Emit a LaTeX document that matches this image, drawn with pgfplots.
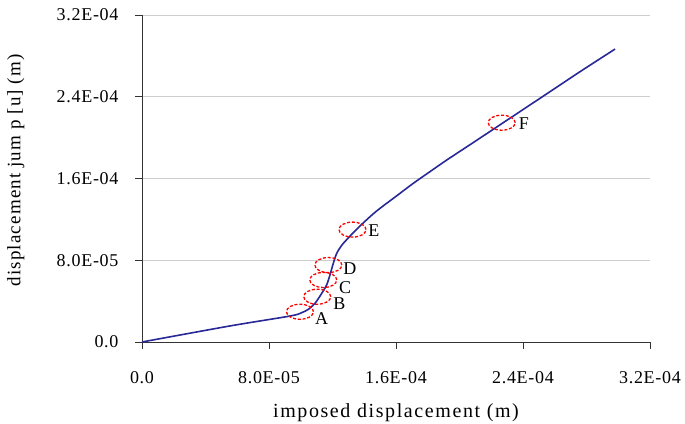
\documentclass[border=0pt]{standalone}
\usepackage{pgfplots}
\pgfplotsset{compat=1.18}
\usepackage{fontspec}
\setmainfont{Liberation Serif}
\definecolor{curveblue}{RGB}{40,40,150}
\definecolor{gridgray}{RGB}{205,205,205}
\begin{document}
\begin{tikzpicture}
\path[use as bounding box] (-142pt,-81pt) rectangle (543pt,342pt);
\begin{axis}[
  at={(0,0)}, anchor=origin,
  scale only axis, width=508pt, height=327pt,
  xmin=0, xmax=3.2e-4, ymin=0, ymax=3.2e-4,
  axis x line*=bottom, axis y line*=left,
  axis line style={black!80, line width=0.7pt},
  tick align=outside, major tick length=7pt,
  tick style={black!80, line width=0.6pt},
  xtick={0,8e-5,1.6e-4,2.4e-4,3.2e-4},
  xticklabels={0.0,8.0E-05,1.6E-04,2.4E-04,3.2E-04},
  ytick={0,8e-5,1.6e-4,2.4e-4,3.2e-4},
  yticklabels={0.0,8.0E-05,1.6E-04,2.4E-04,3.2E-04},
  scaled ticks=false,
  ymajorgrids, grid style={gridgray, line width=0.9pt},
  ticklabel style={font=\fontsize{18}{20}\selectfont\addfontfeature{LetterSpace=4}},
  xticklabel style={yshift=-19pt},
  yticklabel style={xshift=-13pt},
  xlabel={imposed displacement (m)},
  ylabel={displacement jum p [u] (m)},
  xlabel style={font=\fontsize{20}{22}\selectfont\addfontfeature{LetterSpace=8},
    at={(axis description cs:0.5,0)}, anchor=north, yshift=-58pt},
  ylabel style={font=\fontsize{19}{22}\selectfont\addfontfeature{LetterSpace=6},
    at={(axis description cs:0,0.525)}, anchor=south, yshift=114pt},
  clip=false,
]
\addplot[curveblue, line width=1.6pt, smooth, tension=0.5] coordinates {
 (0,0) (5.54e-5,1.57e-5) (9.32e-5,2.54e-5) (1.006e-4,2.87e-5) (1.048e-4,3.2e-5)
 (1.09e-4,3.79e-5) (1.132e-4,4.76e-5) (1.163e-4,5.58e-5) (1.184e-4,6.56e-5)
 (1.205e-4,7.7e-5) (1.226e-4,8.65e-5) (1.26e-4,9.5e-5) (1.325e-4,1.06e-4)
 (1.39e-4,1.16e-4) (1.478e-4,1.282e-4) (1.604e-4,1.43e-4) (1.709e-4,1.553e-4)
 (1.814e-4,1.667e-4) (1.919e-4,1.78e-4) (2.087e-4,1.952e-4) (2.255e-4,2.125e-4)
 (2.549e-4,2.428e-4) (2.759e-4,2.645e-4) (2.98e-4,2.867e-4)
};
\addplot[only marks, mark=o, mark size=7.5pt,
  mark options={draw=red, xscale=1.8, line width=1.3pt, dash pattern=on 3pt off 1.8pt}]
 coordinates {
 (9.95e-5,2.96e-5) (1.104e-4,4.43e-5) (1.142e-4,6.07e-5) (1.174e-4,7.53e-5)
 (1.326e-4,1.1e-4) (2.266e-4,2.146e-4)
};
\addplot[draw=none, mark=none, nodes near coords, point meta=explicit symbolic,
  every node near coord/.style={anchor=center, font=\fontsize{18}{20}\selectfont, text=black}]
 coordinates {
 (1.132e-4,2.32e-5)[A] (1.243e-4,3.79e-5)[B] (1.279e-4,5.31e-5)[C]
 (1.31e-4,7.21e-5)[D] (1.461e-4,1.089e-4)[E] (2.406e-4,2.14e-4)[F]
};
\end{axis}
\end{tikzpicture}
\end{document}
